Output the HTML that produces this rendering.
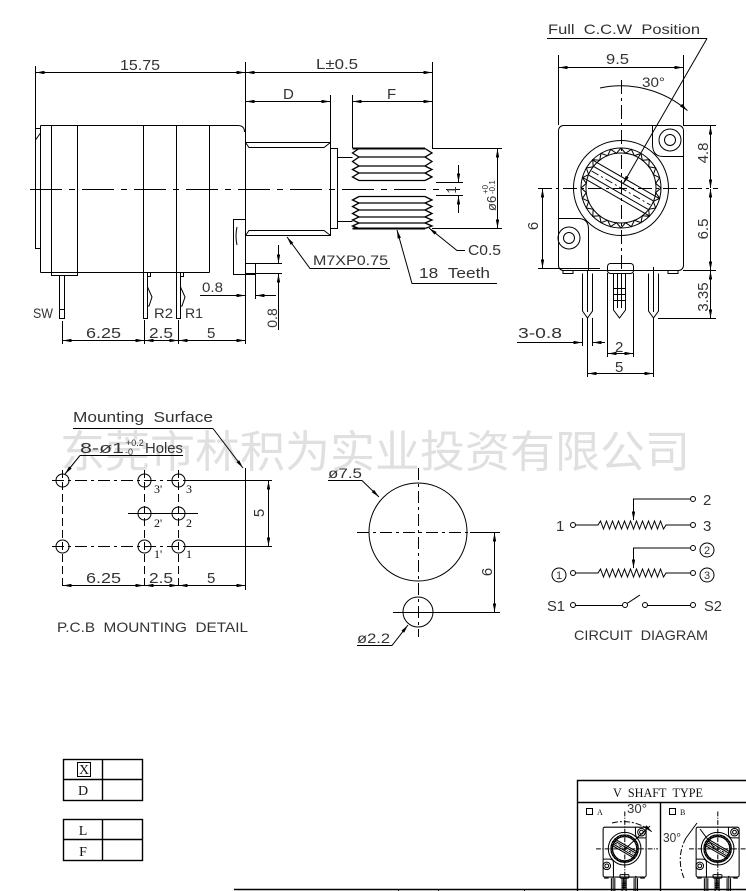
<!DOCTYPE html>
<html><head><meta charset="utf-8">
<style>
html,body{margin:0;padding:0;background:#fff;}
svg{display:block;}
text{font-family:"Liberation Sans",sans-serif;fill:#333;stroke:none;}
.sf{font-family:"Liberation Serif",serif;fill:#111;}
</style></head><body>
<svg width="746" height="891" viewBox="0 0 746 891" xmlns="http://www.w3.org/2000/svg" xmlns:xlink="http://www.w3.org/1999/xlink">
<defs>
<marker id="a" viewBox="0 0 10 4" refX="10" refY="2" markerWidth="9" markerHeight="3.4" markerUnits="userSpaceOnUse" orient="auto-start-reverse"><path d="M0,0L10,2L0,4z" fill="#000" stroke="none"/></marker>
<polyline id="tq" points="40,0 34.7,4.57 38.64,10.35 32.34,13.39 34.64,20 27.77,21.31 28.28,28.28 21.31,27.77 20,34.64 13.39,32.34 10.35,38.64 4.57,34.7 0,40"/>
</defs>

<!-- watermark -->
<text x="60" y="467" font-size="44" textLength="630" lengthAdjust="spacingAndGlyphs" style="font-family:'Liberation Sans','Noto Sans CJK SC',sans-serif;fill:#e0e0e0">东莞市林积为实业投资有限公司</text>

<g stroke="#000" stroke-width="1" fill="none">
<!-- ============ SIDE VIEW ============ -->
<line x1="35.5" y1="66" x2="35.5" y2="128"/>
<line x1="245.5" y1="62" x2="245.5" y2="344"/>
<line x1="432.5" y1="62" x2="432.5" y2="148"/>
<line x1="330.5" y1="95" x2="330.5" y2="142"/>
<line x1="352.5" y1="95" x2="352.5" y2="148"/>
<line x1="36" y1="72.5" x2="245" y2="72.5" marker-start="url(#a)" marker-end="url(#a)"/>
<line x1="246" y1="72.5" x2="432" y2="72.5" marker-start="url(#a)" marker-end="url(#a)"/>
<line x1="246" y1="101.5" x2="330" y2="101.5" marker-start="url(#a)" marker-end="url(#a)"/>
<line x1="353" y1="101.5" x2="432" y2="101.5" marker-start="url(#a)" marker-end="url(#a)"/>

<rect x="35.5" y="128.5" width="5" height="120"/>
<line x1="35.5" y1="140" x2="40.5" y2="133"/>
<path d="M40.5,125.5 H238 Q244.5,125.5 244.5,132"/>
<line x1="40.5" y1="125.5" x2="40.5" y2="272.5"/>
<line x1="40.5" y1="272.5" x2="209.5" y2="272.5"/>
<line x1="51.5" y1="125.5" x2="51.5" y2="272.5"/>
<line x1="77.5" y1="125.5" x2="77.5" y2="272.5"/>
<line x1="143.5" y1="125.5" x2="143.5" y2="272.5"/>
<line x1="176.5" y1="125.5" x2="176.5" y2="272.5"/>
<line x1="209.5" y1="125.5" x2="209.5" y2="272.5"/>
<rect x="51.5" y="272.5" width="26" height="3"/>
<path d="M245.5,219.5 H233.5 V274.5 H255.5 V263.5 H245.5"/>
<path d="M237,227 Q235,236 237,245"/>

<!-- pins -->
<rect x="59.5" y="275.5" width="5" height="43"/>
<line x1="59.5" y1="309.5" x2="64.5" y2="309.5"/>
<rect x="143.5" y="272.5" width="4" height="46"/>
<rect x="147.5" y="272.5" width="3" height="4"/>
<path d="M147.5,287 L152,297 L149,306 L147.5,306"/>
<rect x="176.5" y="272.5" width="4" height="46"/>
<rect x="180.5" y="272.5" width="3" height="4"/>
<path d="M180.5,287 L185,297 L182,306 L180.5,306"/>

<line x1="62.5" y1="321" x2="62.5" y2="344"/>
<line x1="144.5" y1="320" x2="144.5" y2="344"/>
<line x1="178.5" y1="320" x2="178.5" y2="344"/>
<line x1="63" y1="340.5" x2="144" y2="340.5" marker-start="url(#a)" marker-end="url(#a)"/>
<line x1="145" y1="340.5" x2="178" y2="340.5" marker-start="url(#a)" marker-end="url(#a)"/>
<line x1="179" y1="340.5" x2="245" y2="340.5" marker-start="url(#a)" marker-end="url(#a)"/>

<line x1="30" y1="189.5" x2="460" y2="189.5" stroke-dasharray="32,7,6,7"/>

<!-- bushing -->
<rect x="245.5" y="142.5" width="85" height="93"/>
<path d="M245.5,142.5 L249,147.5 H324 L330.5,142.5"/>
<path d="M245.5,235.5 L249,230.5 H324 L330.5,235.5"/>
<rect x="330.5" y="148.5" width="7" height="80"/>
<path d="M337.5,157.5 H352.5 M337.5,221.5 H352.5"/>

<!-- knurl -->
<g stroke-width="1.3">
<path d="M359,148.5 H425 M359,157 H425 M359,166 H425 M359,173 H425 M359,180.5 H425"/>
<polyline points="359,148.5 352.5,153 359,157 352.5,161.5 359,166 352.5,169.5 359,173 352.5,177 359,180.5"/>
<polyline points="425,148.5 432,153 425,157 432,161.5 425,166 432,169.5 425,173 432,177 425,180.5"/>
<path d="M359,196.5 H425 M359,203 H425 M359,210 H425 M359,217 H425 M359,223 H425 M359,228.5 H425"/>
<polyline points="359,196.5 352.5,200 359,203 352.5,206.5 359,210 352.5,213.5 359,217 352.5,220 359,223 352.5,226 359,228.5"/>
<polyline points="425,196.5 432,200 425,203 432,206.5 425,210 432,213.5 425,217 432,220 425,223 432,226 425,228.5"/>
</g>
<line x1="352.5" y1="148.5" x2="425" y2="148.5" stroke-width="2"/>
<line x1="352.5" y1="228.5" x2="425" y2="228.5" stroke-width="2"/>

<line x1="432" y1="148.5" x2="502" y2="148.5"/>
<line x1="432" y1="228.5" x2="502" y2="228.5"/>
<line x1="497.5" y1="149" x2="497.5" y2="228" marker-start="url(#a)" marker-end="url(#a)"/>
<line x1="436" y1="182.5" x2="463" y2="182.5"/>
<line x1="436" y1="195.5" x2="463" y2="195.5"/>
<line x1="458.5" y1="165" x2="458.5" y2="182" marker-end="url(#a)"/>
<line x1="458.5" y1="213" x2="458.5" y2="196" marker-end="url(#a)"/>

<polyline points="287,237 310,268.5 390,268.5" marker-start="url(#a)"/>
<polyline points="397,230 412,283.5 497,283.5" marker-start="url(#a)"/>
<polyline points="429,228 457,250.5 465,250.5" marker-start="url(#a)"/>

<!-- 0.8 dims -->
<line x1="245" y1="263.5" x2="282" y2="263.5"/>
<line x1="245" y1="273.5" x2="282" y2="273.5"/>
<line x1="255.5" y1="274" x2="255.5" y2="299"/>
<line x1="200" y1="295.5" x2="245" y2="295.5" marker-end="url(#a)"/>
<line x1="276" y1="295.5" x2="256" y2="295.5" marker-end="url(#a)"/>
<line x1="278.5" y1="245" x2="278.5" y2="263" marker-end="url(#a)"/>
<line x1="278.5" y1="330" x2="278.5" y2="274" marker-end="url(#a)"/>

<!-- ============ FRONT VIEW ============ -->
<g id="fv">
<rect x="558.5" y="125.5" width="125" height="145" rx="5"/>
<path d="M652.5,125.5 V144 Q652.5,156.5 663,156.5 H683.5"/>
<path d="M558.5,218.5 H578 Q588.5,218.5 588.5,229 V270.5"/>
<circle cx="670" cy="140" r="11"/>
<circle cx="670" cy="140" r="5.5"/>
<circle cx="569" cy="238" r="11"/>
<circle cx="569" cy="238" r="5.5"/>
<circle cx="621" cy="188" r="47.5"/>
<circle cx="621" cy="188" r="40"/>
<circle cx="621" cy="188" r="35"/>
<g transform="translate(621,188)">
<use xlink:href="#tq"/>
<use xlink:href="#tq" transform="rotate(90)"/>
<use xlink:href="#tq" transform="rotate(180)"/>
<use xlink:href="#tq" transform="rotate(270)"/>
<g transform="rotate(30)">
<line x1="-38.5" y1="-10" x2="38.5" y2="-10"/>
<line x1="-38.5" y1="10" x2="38.5" y2="10"/>
<line x1="-34" y1="-5" x2="34" y2="-5"/>
<line x1="-34" y1="5" x2="34" y2="5"/>
<line x1="-34" y1="0" x2="34" y2="0" stroke-dasharray="8,3,2,3"/>
</g>
</g>
<path d="M563,270.5 v3 h10 v-3 M668,270.5 v3 h10 v-3"/>
<rect x="607.5" y="263.5" width="26" height="10" rx="3"/>
<path d="M582.5,273.5 V311 L587.5,318 L592.5,311 V273.5"/>
<line x1="587.5" y1="270" x2="587.5" y2="312"/>
<path d="M613.5,273.5 V310 L619.5,318 L625.5,310 V273.5"/>
<path d="M617.5,274 V308 M621.5,274 V308 M613.5,288.5 H625.5 M613.5,294.5 H625.5 M613.5,300.5 H625.5"/>
<path d="M648.5,273.5 V311 L653.5,318 L658.5,311 V273.5"/>
<line x1="653.5" y1="267" x2="653.5" y2="312"/>
<line x1="621.5" y1="80" x2="621.5" y2="292" stroke-dasharray="14,4,3,4"/>
<line x1="538" y1="188.5" x2="718" y2="188.5" stroke-dasharray="14,4,3,4"/>
</g>

<line x1="558.5" y1="55" x2="558.5" y2="125"/>
<line x1="683.5" y1="55" x2="683.5" y2="125"/>
<line x1="559" y1="67.5" x2="683" y2="67.5" marker-start="url(#a)" marker-end="url(#a)"/>
<path d="M600,88 A102,102 0 0 1 687.5,110.6" marker-end="url(#a)"/>
<line x1="547" y1="38.5" x2="707" y2="38.5"/>
<line x1="707" y1="38.5" x2="623" y2="184" marker-end="url(#a)"/>

<line x1="683" y1="125.5" x2="716" y2="125.5"/>
<line x1="683" y1="270.5" x2="716" y2="270.5"/>
<line x1="658" y1="318.5" x2="716" y2="318.5"/>
<line x1="710.5" y1="126" x2="710.5" y2="188" marker-start="url(#a)" marker-end="url(#a)"/>
<line x1="710.5" y1="189" x2="710.5" y2="270" marker-start="url(#a)" marker-end="url(#a)"/>
<line x1="710.5" y1="271" x2="710.5" y2="318" marker-start="url(#a)" marker-end="url(#a)"/>
<line x1="538" y1="268.5" x2="600" y2="268.5"/>
<line x1="542.5" y1="189" x2="542.5" y2="268" marker-start="url(#a)" marker-end="url(#a)"/>

<line x1="582.5" y1="318" x2="582.5" y2="346"/>
<line x1="592.5" y1="318" x2="592.5" y2="346"/>
<line x1="587.5" y1="318" x2="587.5" y2="377"/>
<line x1="653.5" y1="318" x2="653.5" y2="377"/>
<line x1="607.5" y1="273" x2="607.5" y2="357"/>
<line x1="633.5" y1="273" x2="633.5" y2="357"/>
<line x1="517" y1="342.5" x2="582" y2="342.5" marker-end="url(#a)"/>
<line x1="605" y1="342.5" x2="593" y2="342.5" marker-end="url(#a)"/>
<line x1="608" y1="353.5" x2="633" y2="353.5" marker-start="url(#a)" marker-end="url(#a)"/>
<line x1="588" y1="373.5" x2="653" y2="373.5" marker-start="url(#a)" marker-end="url(#a)"/>

<!-- ============ PCB ============ -->
<line x1="73" y1="428.5" x2="213" y2="428.5"/>
<line x1="213" y1="428.5" x2="243" y2="468" marker-end="url(#a)"/>
<line x1="80" y1="455.5" x2="183" y2="455.5"/>
<line x1="80" y1="455.5" x2="65" y2="474" marker-end="url(#a)"/>
<circle cx="62.5" cy="480.5" r="6.5"/>
<circle cx="144.5" cy="480.5" r="6.5"/>
<circle cx="178.5" cy="480.5" r="6.5"/>
<circle cx="144.5" cy="513.5" r="6.5"/>
<circle cx="178.5" cy="513.5" r="6.5"/>
<circle cx="62.5" cy="546.5" r="6.5"/>
<circle cx="144.5" cy="546.5" r="6.5"/>
<circle cx="178.5" cy="546.5" r="6.5"/>
<line x1="52" y1="480.5" x2="185" y2="480.5" stroke-dasharray="12,4,3,4"/>
<line x1="185" y1="480.5" x2="272" y2="480.5"/>
<line x1="52" y1="546.5" x2="185" y2="546.5" stroke-dasharray="12,4,3,4"/>
<line x1="185" y1="546.5" x2="272" y2="546.5"/>
<line x1="128" y1="513.5" x2="198" y2="513.5"/>
<line x1="62.5" y1="470" x2="62.5" y2="590" stroke-dasharray="8,4"/>
<line x1="144.5" y1="470" x2="144.5" y2="590" stroke-dasharray="8,4"/>
<line x1="178.5" y1="470" x2="178.5" y2="590" stroke-dasharray="8,4"/>
<line x1="245.5" y1="468" x2="245.5" y2="590"/>
<line x1="268.5" y1="481" x2="268.5" y2="546" marker-start="url(#a)" marker-end="url(#a)"/>
<line x1="63" y1="585.5" x2="144" y2="585.5" marker-start="url(#a)" marker-end="url(#a)"/>
<line x1="145" y1="585.5" x2="178" y2="585.5" marker-start="url(#a)" marker-end="url(#a)"/>
<line x1="179" y1="585.5" x2="245" y2="585.5" marker-start="url(#a)" marker-end="url(#a)"/>

<!-- ============ KNOB ============ -->
<circle cx="418" cy="532" r="49"/>
<circle cx="418" cy="612" r="15"/>
<line x1="418.5" y1="468" x2="418.5" y2="637" stroke-dasharray="12,4,3,4"/>
<line x1="357" y1="532.5" x2="470" y2="532.5" stroke-dasharray="12,4,3,4"/>
<line x1="470" y1="532.5" x2="500" y2="532.5"/>
<line x1="393" y1="612.5" x2="500" y2="612.5"/>
<line x1="494.5" y1="533" x2="494.5" y2="612" marker-start="url(#a)" marker-end="url(#a)"/>
<polyline points="328,480.5 362,480.5 379,497" marker-end="url(#a)"/>
<polyline points="357,645.5 392,645.5 408,625" marker-end="url(#a)"/>

<!-- ============ CIRCUIT ============ -->
<circle cx="693" cy="499" r="2.5"/>
<path d="M690.5,499 H633.5 V520" marker-end="url(#a)"/>
<circle cx="573" cy="525" r="2.5"/>
<circle cx="693" cy="525" r="2.5"/>
<path d="M575.5,525 H598 l2.5,-4 l3,8 l3,-8 l3,8 l3,-8 l3,8 l3,-8 l3,8 l3,-8 l3,8 l3,-8 l3,8 l3,-8 l3,8 l3,-8 l3,8 l3,-8 l3,8 l3,-8 l3,8 l3,-8 l3,8 l2.5,-4 H690.5"/>
<circle cx="693" cy="548" r="2.5"/>
<path d="M690.5,548 H633.5 V568" marker-end="url(#a)"/>
<circle cx="573" cy="573" r="2.5"/>
<circle cx="693" cy="573" r="2.5"/>
<path d="M575.5,573 H598 l2.5,-4 l3,8 l3,-8 l3,8 l3,-8 l3,8 l3,-8 l3,8 l3,-8 l3,8 l3,-8 l3,8 l3,-8 l3,8 l3,-8 l3,8 l3,-8 l3,8 l3,-8 l3,8 l3,-8 l3,8 l2.5,-4 H690.5"/>
<circle cx="559" cy="575" r="7"/>
<circle cx="707" cy="550" r="7"/>
<circle cx="707" cy="575" r="7"/>
<circle cx="573" cy="605" r="2.5"/>
<line x1="575.5" y1="605.5" x2="622.5" y2="605.5"/>
<circle cx="625" cy="605" r="2.5"/>
<line x1="627" y1="603.5" x2="640" y2="595"/>
<circle cx="645" cy="605" r="2.5"/>
<line x1="647.5" y1="605.5" x2="690.5" y2="605.5"/>
<circle cx="693" cy="605" r="2.5"/>

<!-- ============ TABLES ============ -->
<g stroke-width="1.4">
<rect x="63.5" y="759.5" width="79" height="41"/>
<line x1="102.5" y1="759.5" x2="102.5" y2="800.5"/>
<line x1="63.5" y1="779.5" x2="142.5" y2="779.5"/>
<rect x="63.5" y="819.5" width="79" height="41"/>
<line x1="102.5" y1="819.5" x2="102.5" y2="860.5"/>
<line x1="63.5" y1="839.5" x2="142.5" y2="839.5"/>
<path d="M577.5,891 V780.5 H746 M577.5,802.5 H746 M660.5,802.5 V891"/>
<line x1="234" y1="889.5" x2="746" y2="889.5"/>
</g>
<rect x="77.5" y="762.5" width="13" height="14"/>
<path d="M398.5,889 V891 M438.5,889 V891 M524.5,889 V891"/>
<rect x="586.5" y="808.5" width="6" height="6"/>
<rect x="669.5" y="808.5" width="6" height="6"/>
<path d="M612,823 A45,45 0 0 1 652,832" stroke-dasharray="6,2,2,2" marker-end="url(#a)"/>
<line x1="625" y1="849" x2="650" y2="826"/>
<path d="M686,838 A45,45 0 0 0 684,878" stroke-dasharray="6,2,2,2"/>
<line x1="686" y1="838" x2="697" y2="823"/>
<line x1="700" y1="829" x2="715" y2="849"/>
</g>

<!-- mini front views -->
<use xlink:href="#fv" transform="translate(411,784) scale(0.344)" stroke="#000" fill="none" stroke-width="3"/>
<use xlink:href="#fv" transform="translate(504,784) scale(0.344)" stroke="#000" fill="none" stroke-width="3"/>

<!-- ============ TEXT ============ -->
<text x="120" y="70" font-size="15" textLength="40" lengthAdjust="spacingAndGlyphs">15.75</text>
<text x="316" y="69" font-size="15" textLength="42" lengthAdjust="spacingAndGlyphs">L±0.5</text>
<text x="283" y="99" font-size="15">D</text>
<text x="387" y="99" font-size="15">F</text>
<text x="313" y="265" font-size="14" textLength="75" lengthAdjust="spacingAndGlyphs">M7XP0.75</text>
<text x="419" y="278" font-size="15" textLength="71" lengthAdjust="spacingAndGlyphs">18&#160;&#160;Teeth</text>
<text x="468" y="255" font-size="15" textLength="33" lengthAdjust="spacingAndGlyphs">C0.5</text>
<g transform="translate(496,190) rotate(-90)">
<text x="-21" y="0" font-size="13">ø6</text>
<text x="-4" y="-1" font-size="8">-0.1</text>
<text x="-4" y="-8" font-size="8">+0</text>
</g>
<text transform="translate(456,190) rotate(-90)" text-anchor="middle" font-size="13">1</text>
<text x="202" y="292" font-size="14" textLength="21" lengthAdjust="spacingAndGlyphs">0.8</text>
<text transform="translate(277,318) rotate(-90)" text-anchor="middle" font-size="14">0.8</text>
<text x="33" y="318" font-size="14" textLength="20" lengthAdjust="spacingAndGlyphs">SW</text>
<text x="154" y="318" font-size="14" textLength="19" lengthAdjust="spacingAndGlyphs">R2</text>
<text x="185" y="318" font-size="14" textLength="18" lengthAdjust="spacingAndGlyphs">R1</text>
<text x="86" y="338" font-size="15" textLength="35" lengthAdjust="spacingAndGlyphs">6.25</text>
<text x="149" y="338" font-size="15" textLength="24" lengthAdjust="spacingAndGlyphs">2.5</text>
<text x="207" y="338" font-size="15">5</text>

<text x="548" y="34" font-size="14" textLength="152" lengthAdjust="spacingAndGlyphs">Full&#160;&#160;C.C.W&#160;&#160;Position</text>
<text x="606" y="64" font-size="15" textLength="23" lengthAdjust="spacingAndGlyphs">9.5</text>
<text x="642" y="87" font-size="14" textLength="23" lengthAdjust="spacingAndGlyphs">30°</text>
<text transform="translate(708,153) rotate(-90)" text-anchor="middle" font-size="15">4.8</text>
<text transform="translate(708,229) rotate(-90)" text-anchor="middle" font-size="15">6.5</text>
<text transform="translate(708,297) rotate(-90)" text-anchor="middle" font-size="15">3.35</text>
<text transform="translate(538,226) rotate(-90)" text-anchor="middle" font-size="15">6</text>
<text x="518" y="338" font-size="15" textLength="44" lengthAdjust="spacingAndGlyphs">3-0.8</text>
<text x="615" y="352" font-size="15">2</text>
<text x="615" y="372" font-size="15">5</text>

<text x="73" y="422" font-size="15" textLength="140" lengthAdjust="spacingAndGlyphs">Mounting&#160;&#160;Surface</text>
<text x="80" y="453" font-size="15" textLength="44" lengthAdjust="spacingAndGlyphs">8-ø1</text>
<text x="126" y="446" font-size="9">+0.2</text>
<text x="125" y="455" font-size="9">-0</text>
<text x="145" y="453" font-size="15" textLength="38" lengthAdjust="spacingAndGlyphs">Holes</text>
<text class="sf" x="154" y="493" font-size="12">3'</text>
<text class="sf" x="186" y="493" font-size="12">3</text>
<text class="sf" x="154" y="527" font-size="12">2'</text>
<text class="sf" x="186" y="527" font-size="12">2</text>
<text class="sf" x="154" y="558" font-size="12">1'</text>
<text class="sf" x="186" y="558" font-size="12">1</text>
<text transform="translate(264,513) rotate(-90)" text-anchor="middle" font-size="15">5</text>
<text x="86" y="583" font-size="15" textLength="35" lengthAdjust="spacingAndGlyphs">6.25</text>
<text x="149" y="583" font-size="15" textLength="24" lengthAdjust="spacingAndGlyphs">2.5</text>
<text x="207" y="583" font-size="15">5</text>
<text x="57" y="632" font-size="14" textLength="191" lengthAdjust="spacingAndGlyphs">P.C.B&#160;&#160;MOUNTING&#160;&#160;DETAIL</text>

<text x="328" y="478" font-size="14" textLength="34" lengthAdjust="spacingAndGlyphs">ø7.5</text>
<text transform="translate(492,572) rotate(-90)" text-anchor="middle" font-size="15">6</text>
<text x="357" y="643" font-size="14" textLength="33" lengthAdjust="spacingAndGlyphs">ø2.2</text>

<text x="703" y="505" font-size="15">2</text>
<text x="703" y="531" font-size="15">3</text>
<text x="556" y="531" font-size="15">1</text>
<text x="707" y="554" font-size="11" text-anchor="middle">2</text>
<text x="707" y="579" font-size="11" text-anchor="middle">3</text>
<text x="559" y="579" font-size="11" text-anchor="middle">1</text>
<text x="547" y="611" font-size="15" textLength="18" lengthAdjust="spacingAndGlyphs">S1</text>
<text x="704" y="611" font-size="15" textLength="18" lengthAdjust="spacingAndGlyphs">S2</text>
<text x="574" y="640" font-size="14" textLength="134" lengthAdjust="spacingAndGlyphs">CIRCUIT&#160;&#160;DIAGRAM</text>

<text class="sf" x="84" y="774" font-size="14" text-anchor="middle">X</text>
<text class="sf" x="83" y="795" font-size="14" text-anchor="middle">D</text>
<text class="sf" x="83" y="835" font-size="14" text-anchor="middle">L</text>
<text class="sf" x="83" y="856" font-size="14" text-anchor="middle">F</text>
<text class="sf" x="613" y="797" font-size="13" textLength="90" lengthAdjust="spacingAndGlyphs">V&#160;&#160;SHAFT&#160;&#160;TYPE</text>
<text class="sf" x="597" y="815" font-size="8">A</text>
<text class="sf" x="680" y="815" font-size="8">B</text>
<text x="627" y="813" font-size="13" textLength="20" lengthAdjust="spacingAndGlyphs">30°</text>
<text x="663" y="842" font-size="13" textLength="18" lengthAdjust="spacingAndGlyphs">30°</text>
</svg>
</body></html>
